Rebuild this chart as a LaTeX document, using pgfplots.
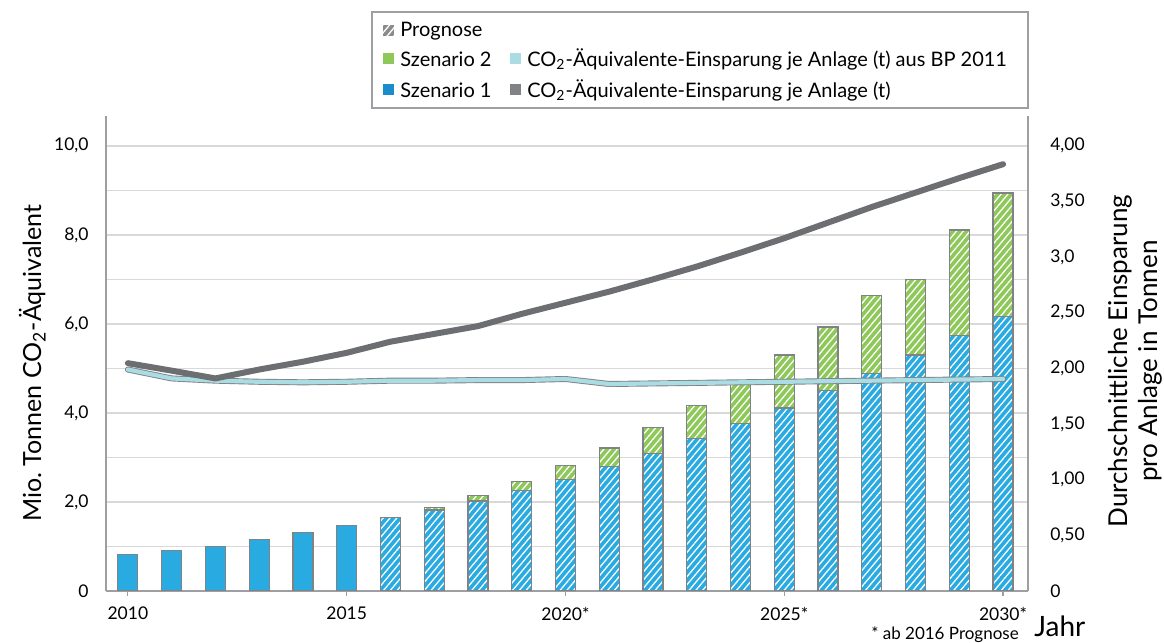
\documentclass[border=0pt]{standalone}
\usepackage{fontspec}
\setmainfont{Lato}
\usepackage{pgfplots}
\usepackage{pgfplotstable}
\pgfplotsset{compat=1.18}
\usetikzlibrary{patterns.meta}

\definecolor{sz1}{HTML}{29ABE2}
\definecolor{sz1leg}{HTML}{1B8CCB}
\definecolor{sz2}{HTML}{8DC859}
\definecolor{bp}{HTML}{A9DCE3}
\definecolor{co2}{HTML}{6D6E71}
\definecolor{barline}{HTML}{808285}
\definecolor{axisgray}{HTML}{9D9FA2}
\definecolor{gridgray}{HTML}{D9D9D9}

% Mio. t CO2-Aequivalent: Szenario 1 und Gesamthoehe mit Szenario 2
\pgfplotstableread{
jahr sz1  gesamt
2010 0.82 0.82
2011 0.91 0.91
2012 1.00 1.00
2013 1.15 1.15
2014 1.32 1.32
2015 1.48 1.48
2016 1.66 1.66
2017 1.82 1.88
2018 2.02 2.15
2019 2.26 2.46
2020 2.50 2.82
2021 2.79 3.21
2022 3.09 3.67
2023 3.42 4.16
2024 3.77 4.65
2025 4.11 5.30
2026 4.51 5.93
2027 4.89 6.63
2028 5.30 6.99
2029 5.74 8.11
2030 6.16 8.94
}\bars

% Einsparung je Anlage in t
\pgfplotstableread{
jahr co2   bp
2010 2.047 1.99
2011 1.98  1.91
2012 1.91  1.89
2013 1.99  1.88
2014 2.06  1.875
2015 2.14  1.88
2016 2.24  1.89
2017 2.31  1.89
2018 2.38  1.895
2019 2.49  1.895
2020 2.59  1.905
2021 2.69  1.86
2022 2.80  1.865
2023 2.915 1.87
2024 3.04  1.875
2025 3.17  1.88
2026 3.31  1.885
2027 3.45  1.89
2028 3.58  1.895
2029 3.71  1.90
2030 3.835 1.905
}\linien

\tikzset{
  hatch/.style={postaction={pattern={Lines[angle=50,distance=2.6pt,line width=0.65pt]},pattern color=white}},
}

\begin{document}
\begin{tikzpicture}
\useasboundingbox (-53pt,-26pt) rectangle (529pt,295.5pt);

\begin{axis}[
    width=461pt, height=237.5pt, scale only axis,
    at={(0,0)}, anchor=south west,
    xmin=2009.5, xmax=2030.57, ymin=0, ymax=10.67,
    axis x line=bottom, axis y line=left,
    axis line style={-, draw=axisgray, line width=1pt},
    xtick={2010,2015,2020,2025,2030},
    xticklabels={2010,2015,2020*,2025*,2030*},
    tick align=outside, major tick length=2.5pt,
    xtick style={draw=axisgray, line width=0.6pt},
    ytick={0,2,4,6,8,10},
    yticklabels={0,{2,0},{4,0},{6,0},{8,0},{10,0}},
    minor ytick={1,3,5,7,9},
    ytick style={draw=none}, minor tick style={draw=none},
    ymajorgrids, yminorgrids,
    major grid style={gridgray, line width=0.75pt},
    minor grid style={gridgray, line width=0.75pt},
    tick label style={font=\fontsize{8.75}{10}\selectfont},
    /pgf/number format/assume math mode=true,
    yticklabel style={xshift=-2.7pt},
    xticklabel style={yshift=-2pt},
    every axis y label/.style={at={(axis description cs:-0.08,0.48)}, rotate=90, anchor=center, font=\fontsize{12.5}{15}\selectfont},
    ylabel={Mio.\ Tonnen CO\textsubscript{2}-Äquivalent},
]
\addplot[ybar, bar width=10pt, bar shift=0pt, fill=sz2, draw=barline, line width=0.6pt,
    restrict x to domain=2017:2030, hatch] table[x=jahr, y=gesamt] {\bars};
\addplot[ybar, bar width=10pt, bar shift=0pt, fill=sz1, draw=barline, line width=0.6pt,
    restrict x to domain=2009:2015] table[x=jahr, y=sz1] {\bars};
\addplot[ybar, bar width=10pt, bar shift=0pt, fill=sz1, draw=barline, line width=0.6pt,
    restrict x to domain=2016:2030, hatch] table[x=jahr, y=sz1] {\bars};
\end{axis}

\begin{axis}[
    width=461pt, height=237.5pt, scale only axis,
    at={(0,0)}, anchor=south west,
    xmin=2009.5, xmax=2030.57, ymin=0, ymax=4.268,
    axis x line=none, axis y line*=right,
    axis line style={-, draw=axisgray, line width=1pt},
    ytick={0,0.5,1,1.5,2,2.5,3,3.5,4},
    yticklabels={0,{0,50},{1,00},{1,50},{2,00},{2,50},{3,0},{3,50},{4,00}},
    ytick style={draw=none},
    tick label style={font=\fontsize{8.75}{10}\selectfont},
    yticklabel style={anchor=west, xshift=7.6pt},
    every axis y label/.style={at={(axis description cs:1.116,0.484)}, rotate=90, anchor=center, align=center, font=\fontsize{13}{15}\selectfont},
    ylabel={Durchschnittliche Einsparung\\pro Anlage in Tonnen},
]
\addplot[draw=barline, line width=3pt, line join=round, line cap=round] table[x=jahr, y=bp] {\linien};
\addplot[draw=bp, line width=2.1pt, line join=round, line cap=round] table[x=jahr, y=bp] {\linien};
\addplot[draw=co2, line width=3pt, line join=round, line cap=round] table[x=jahr, y=co2] {\linien};
\end{axis}

% Legende
\draw[axisgray, line width=0.6pt] (133pt,241.5pt) rectangle (461pt,289.5pt);
\begin{scope}[every node/.style={anchor=west, inner sep=0pt, font=\fontsize{10}{12}\selectfont}]
\path[fill=co2!80, hatch] (138.5pt,277.25pt) rectangle ++(5.5pt,5.5pt);
\node at (147pt,280pt) {Prognose};
\fill[sz2] (138.5pt,263.25pt) rectangle ++(5.5pt,5.5pt);
\node at (147pt,266pt) {Szenario 2};
\fill[bp] (202pt,263.25pt) rectangle ++(5.5pt,5.5pt);
\node at (210.5pt,266pt) {CO\textsubscript{2}-Äquivalente-Einsparung je Anlage (t) aus BP 2011};
\fill[sz1leg] (138.5pt,247.75pt) rectangle ++(5.5pt,5.5pt);
\node at (147pt,250.5pt) {Szenario 1};
\fill[barline] (202pt,247.75pt) rectangle ++(5.5pt,5.5pt);
\node at (210.5pt,250.5pt) {CO\textsubscript{2}-Äquivalente-Einsparung je Anlage (t)};
\end{scope}

\node[anchor=west, inner sep=0pt, font=\fontsize{14}{16}\selectfont] at (464pt,-17.5pt) {Jahr};
\node[inner sep=0pt, font=\fontsize{8.5}{10}\selectfont] at (419.5pt,-22pt) {* ab 2016 Prognose};
\end{tikzpicture}
\end{document}
